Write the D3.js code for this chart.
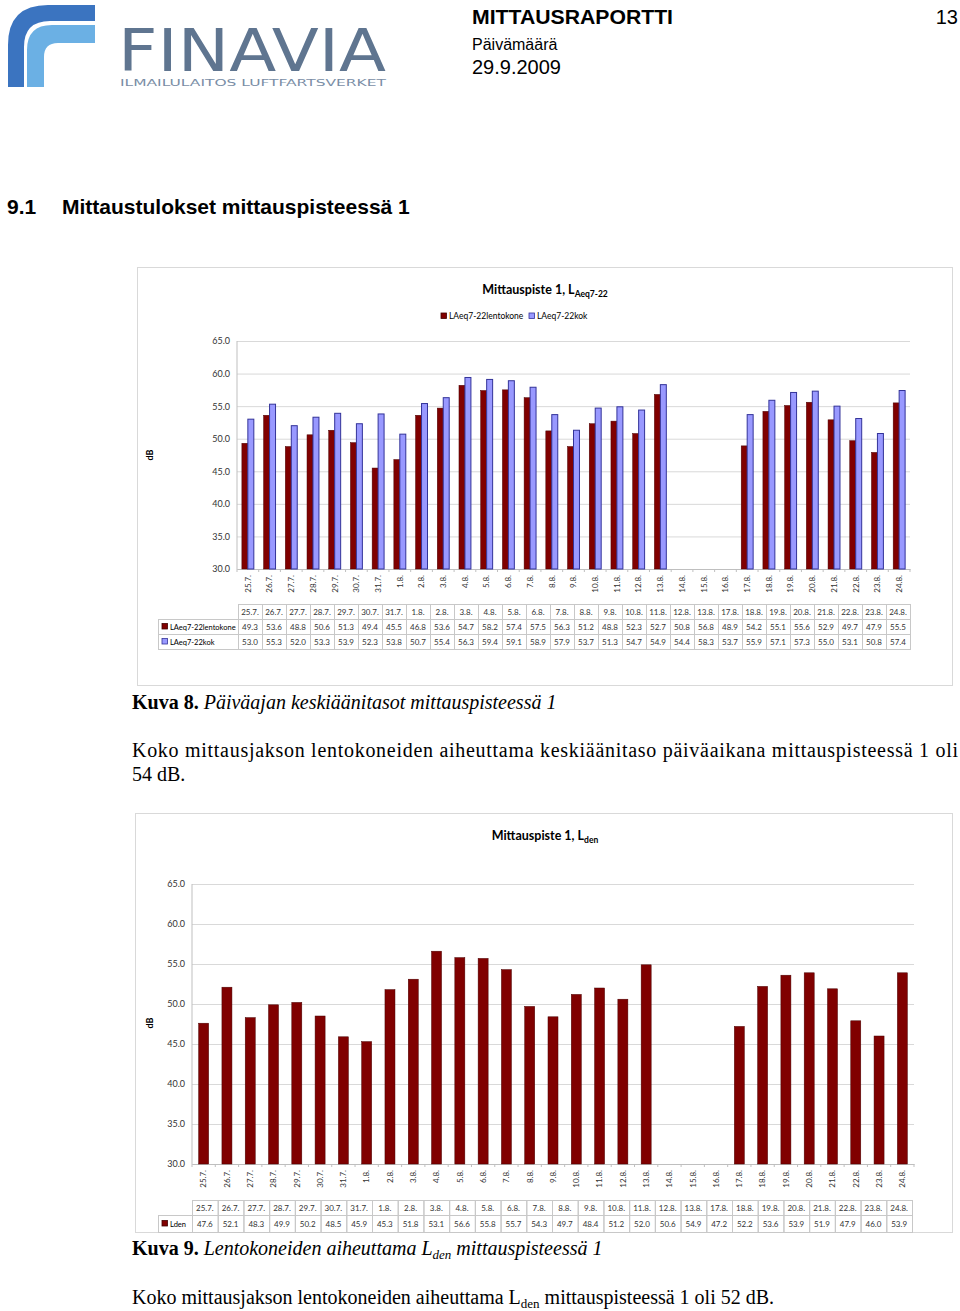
<!DOCTYPE html>
<html>
<head>
<meta charset="utf-8">
<script src="https://cdn.jsdelivr.net/npm/d3@7"></script>
<style>
  body { margin: 0; background: #fff; }
  svg { display: block; }
  .chart text { font-family: Lato, "Open Sans", sans-serif; fill: #333; }
  .serif { font-family: "Liberation Serif", "DejaVu Serif", serif; fill: #000; }
  .sans { font-family: "Liberation Sans", Arial, sans-serif; fill: #000; }
</style>
</head>
<body>
<div id="page"></div>
<script>
var dates = ["25.7.", "26.7.", "27.7.", "28.7.", "29.7.", "30.7.", "31.7.", "1.8.", "2.8.", "3.8.",
  "4.8.", "5.8.", "6.8.", "7.8.", "8.8.", "9.8.", "10.8.", "11.8.", "12.8.", "13.8.",
  "14.8.", "15.8.", "16.8.", "17.8.", "18.8.", "19.8.", "20.8.", "21.8.", "22.8.", "23.8.", "24.8."];

var lentokone = [49.3, 53.6, 48.8, 50.6, 51.3, 49.4, 45.5, 46.8, 53.6, 54.7,
  58.2, 57.4, 57.5, 56.3, 51.2, 48.8, 52.3, 52.7, 50.8, 56.8,
  null, null, null, 48.9, 54.2, 55.1, 55.6, 52.9, 49.7, 47.9, 55.5];

var kokonais = [53.0, 55.3, 52.0, 53.3, 53.9, 52.3, 53.8, 50.7, 55.4, 56.3,
  59.4, 59.1, 58.9, 57.9, 53.7, 51.3, 54.7, 54.9, 54.4, 58.3,
  null, null, null, 53.7, 55.9, 57.1, 57.3, 55.0, 53.1, 50.8, 57.4];

var lden = [47.6, 52.1, 48.3, 49.9, 50.2, 48.5, 45.9, 45.3, 51.8, 53.1,
  56.6, 55.8, 55.7, 54.3, 49.7, 48.4, 51.2, 52.0, 50.6, 54.9,
  null, null, null, 47.2, 52.2, 53.6, 53.9, 51.9, 47.9, 46.0, 53.9];

var yTicks = [30, 35, 40, 45, 50, 55, 60, 65];

var seriesNames = ["LAeq7-22lentokone", "LAeq7-22kok"];
var red = "#800000", blue = "#9999ff", navy = "#333399";

var svg = d3.select("#page").append("svg")
  .attr("width", 960)
  .attr("height", 1311);

svg.append("rect").attr("width", 960).attr("height", 1311).attr("fill", "#fff");

// ---------- page header ----------
var logo = svg.append("g");
logo.append("path")
  .attr("d", "M8,87 L8,45 Q8,5 48,5 L95,5 L95,21 L50,21 Q24,21 24,47 L24,87 Z")
  .attr("fill", "#3b74c0");
logo.append("path")
  .attr("d", "M27,87 L27,50 Q27,25 52,25 L95,25 L95,43 L58,43 Q44,43 44,57 L44,87 Z")
  .attr("fill", "#6bb0e4");
logo.append("text")
  .attr("x", 118).attr("y", 71)
  .attr("textLength", 268).attr("lengthAdjust", "spacingAndGlyphs")
  .style("font-family", "'DejaVu Sans', sans-serif")
  .style("font-size", "58px")
  .style("fill", "#5f7590")
  .text("FINAVIA");
logo.append("text")
  .attr("x", 120).attr("y", 86)
  .attr("textLength", 266).attr("lengthAdjust", "spacingAndGlyphs")
  .style("font-family", "'DejaVu Sans', sans-serif")
  .style("font-size", "9.5px")
  .style("fill", "#7a8ea6")
  .text("ILMAILULAITOS LUFTFARTSVERKET");

svg.append("text").attr("class", "sans").attr("x", 472).attr("y", 24)
  .attr("textLength", 201).attr("lengthAdjust", "spacingAndGlyphs")
  .style("font-size", "21px").style("font-weight", "bold").text("MITTAUSRAPORTTI");
svg.append("text").attr("class", "sans").attr("x", 958).attr("y", 24)
  .attr("text-anchor", "end").style("font-size", "20px").text("13");
svg.append("text").attr("class", "sans").attr("x", 472).attr("y", 50)
  .style("font-size", "16px").text("Päivämäärä");
svg.append("text").attr("class", "sans").attr("x", 472).attr("y", 74)
  .style("font-size", "20px").text("29.9.2009");

svg.append("text").attr("class", "sans").attr("x", 7).attr("y", 214)
  .style("font-size", "21px").style("font-weight", "bold").text("9.1");
svg.append("text").attr("class", "sans").attr("x", 62).attr("y", 214)
  .style("font-size", "21px").style("font-weight", "bold").text("Mittaustulokset mittauspisteessä 1");

// helper for chart title with subscript
function chartTitle(g, x, y, sub) {
  var t = g.append("text").attr("x", x).attr("y", y).attr("text-anchor", "middle")
    .style("font-size", "12.5px").style("font-weight", "bold").style("fill", "#000");
  t.append("tspan").text("Mittauspiste 1, L");
  t.append("tspan").attr("dy", 3).style("font-size", "8.5px").text(sub);
}

// draws gridlines, y axis and x labels
function drawAxes(g, x, y, left, right, bottom) {
  var yAxis = d3.axisLeft(y).tickValues(yTicks).tickFormat(d3.format(".1f"))
    .tickSize(-(right - left)).tickPadding(7);
  var ya = g.append("g").attr("transform", `translate(${left},0)`).call(yAxis);
  ya.select(".domain").remove();
  ya.selectAll("line").attr("stroke", "#d9d9d9");
  ya.selectAll("text").style("font-size", "9px").style("fill", "#333");
  g.append("line").attr("x1", left).attr("x2", left)
    .attr("y1", y(65)).attr("y2", bottom).attr("stroke", "#bfbfbf");

  var xAxis = d3.axisBottom(x).tickSize(0).tickSizeOuter(0);
  var xa = g.append("g").attr("transform", `translate(0,${bottom})`).call(xAxis);
  xa.select(".domain").attr("stroke", "#bfbfbf");
  xa.selectAll("text")
    .attr("transform", "rotate(-90)")
    .attr("text-anchor", "end")
    .attr("x", -6).attr("y", 0).attr("dy", "0.35em")
    .style("font-size", "8px").style("fill", "#333");
  // small category ticks
  g.selectAll(".cattick").data(x.domain().concat(["end"])).enter().append("line")
    .attr("x1", (d, i) => x.range()[0] + i * x.step())
    .attr("x2", (d, i) => x.range()[0] + i * x.step())
    .attr("y1", bottom).attr("y2", bottom + 3)
    .attr("stroke", "#bfbfbf");
}

// ---------- chart 1 ----------
var c1 = svg.append("g").attr("class", "chart");
c1.append("rect").attr("x", 137.5).attr("y", 267.5).attr("width", 815).attr("height", 418)
  .attr("fill", "#fff").attr("stroke", "#d9d9d9");

chartTitle(c1, 545, 294, "Aeq7-22");

// legend
var leg = c1.append("g").attr("transform", "translate(441,319)");
var legX = [0, 88];
seriesNames.forEach(function(name, i) {
  leg.append("rect").attr("x", legX[i]).attr("y", -6).attr("width", 5.5).attr("height", 5.5)
    .attr("fill", i ? blue : red).attr("stroke", i ? navy : "#400000").attr("stroke-width", 0.8);
  leg.append("text").attr("x", legX[i] + 8).attr("y", 0)
    .style("font-size", "8.5px").style("fill", "#000").text(name);
});

var x1 = d3.scaleBand().domain(dates).range([237, 910]).paddingInner(0.45).paddingOuter(0.225);
var y1 = d3.scaleLinear().domain([30, 65]).range([569, 341]);
var sub1 = d3.scaleBand().domain([0, 1]).range([0, x1.bandwidth()]);

drawAxes(c1, x1, y1, 237, 910, 569);

c1.append("text")
  .attr("transform", "translate(153,455) rotate(-90)")
  .attr("text-anchor", "middle")
  .style("font-size", "9px").style("font-weight", "bold").style("fill", "#000")
  .text("dB");

var rows1 = [lentokone, kokonais];
rows1.forEach(function(vals, s) {
  c1.selectAll(".bar" + s).data(dates.map((d, i) => ({ date: d, v: vals[i] })).filter(d => d.v != null))
    .enter().append("rect")
    .attr("x", d => x1(d.date) + sub1(s))
    .attr("y", d => y1(d.v))
    .attr("width", sub1.bandwidth())
    .attr("height", d => y1(30) - y1(d.v))
    .attr("fill", s ? blue : red)
    .attr("stroke", s ? navy : "#4a0000")
    .attr("stroke-width", s ? 1 : 0.5);
});

// data table 1
var tableDates = dates.filter((d, i) => lentokone[i] != null);
var tx1 = d3.scaleBand().domain(tableDates).range([238, 910]);
var rowY1 = [604, 619, 634, 649];

function drawTable(g, tx, rowY, labelX, rowLabels, rowValues, markColors) {
  // header row
  tableDates.forEach(function(d) {
    g.append("rect").attr("x", tx(d) + 0.5).attr("y", rowY[0] + 0.5)
      .attr("width", tx.bandwidth()).attr("height", rowY[1] - rowY[0])
      .attr("fill", "none").attr("stroke", "#c8c8c8");
    g.append("text").attr("x", tx(d) + tx.bandwidth() / 2).attr("y", (rowY[0] + rowY[1]) / 2 + 3)
      .attr("text-anchor", "middle").style("font-size", "8px").text(d);
  });
  rowLabels.forEach(function(label, r) {
    var y0 = rowY[r + 1], y2 = rowY[r + 2];
    g.append("rect").attr("x", labelX + 0.5).attr("y", y0 + 0.5)
      .attr("width", tx.range()[0] - labelX).attr("height", y2 - y0)
      .attr("fill", "none").attr("stroke", "#c8c8c8");
    g.append("rect").attr("x", labelX + 4).attr("y", (y0 + y2) / 2 - 3).attr("width", 5.5).attr("height", 5.5)
      .attr("fill", markColors[r][0]).attr("stroke", markColors[r][1]).attr("stroke-width", 0.8);
    g.append("text").attr("x", labelX + 12).attr("y", (y0 + y2) / 2 + 3)
      .style("font-size", "7.5px").style("fill", "#000").text(label);
    var vals = rowValues[r].filter(v => v != null);
    tableDates.forEach(function(d, i) {
      g.append("rect").attr("x", tx(d) + 0.5).attr("y", y0 + 0.5)
        .attr("width", tx.bandwidth()).attr("height", y2 - y0)
        .attr("fill", "none").attr("stroke", "#c8c8c8");
      g.append("text").attr("x", tx(d) + tx.bandwidth() / 2).attr("y", (y0 + y2) / 2 + 3)
        .attr("text-anchor", "middle").style("font-size", "8px").text(d3.format(".1f")(vals[i]));
    });
  });
}

drawTable(c1, tx1, rowY1, 158, seriesNames, rows1, [[red, "#400000"], [blue, navy]]);

// caption and text 1
var cap1 = svg.append("text").attr("class", "serif").attr("x", 132).attr("y", 709).style("font-size", "20px");
cap1.append("tspan").style("font-weight", "bold").text("Kuva 8. ");
cap1.append("tspan").style("font-style", "italic").text("Päiväajan keskiäänitasot mittauspisteessä 1");

svg.append("text").attr("class", "serif").attr("x", 132).attr("y", 757)
  .attr("textLength", 826).attr("lengthAdjust", "spacing")
  .style("font-size", "20px")
  .text("Koko mittausjakson lentokoneiden aiheuttama keskiäänitaso päiväaikana mittauspisteessä 1 oli");
svg.append("text").attr("class", "serif").attr("x", 132).attr("y", 781)
  .style("font-size", "20px").text("54 dB.");

// ---------- chart 2 ----------
var c2 = svg.append("g").attr("class", "chart");
c2.append("rect").attr("x", 135.5).attr("y", 813.5).attr("width", 817).attr("height", 419)
  .attr("fill", "#fff").attr("stroke", "#d9d9d9");

chartTitle(c2, 545, 840, "den");

var x2 = d3.scaleBand().domain(dates).range([192, 914]).paddingInner(0.57).paddingOuter(0.285);
var y2 = d3.scaleLinear().domain([30, 65]).range([1164, 884]);

drawAxes(c2, x2, y2, 192, 914, 1164);

c2.append("text")
  .attr("transform", "translate(153,1023) rotate(-90)")
  .attr("text-anchor", "middle")
  .style("font-size", "9px").style("font-weight", "bold").style("fill", "#000")
  .text("dB");

c2.selectAll(".bar2").data(dates.map((d, i) => ({ date: d, v: lden[i] })).filter(d => d.v != null))
  .enter().append("rect")
  .attr("x", d => x2(d.date))
  .attr("y", d => y2(d.v))
  .attr("width", x2.bandwidth())
  .attr("height", d => y2(30) - y2(d.v))
  .attr("fill", red)
  .attr("stroke", "#4a0000")
  .attr("stroke-width", 0.5);

var tx2 = d3.scaleBand().domain(tableDates).range([192, 912]);
drawTable(c2, tx2, [1200, 1215, 1232], 158, ["Lden"], [lden], [[red, "#400000"]]);

// caption and text 2
var cap2 = svg.append("text").attr("class", "serif").attr("x", 132).attr("y", 1255).style("font-size", "20px");
cap2.append("tspan").style("font-weight", "bold").text("Kuva 9. ");
cap2.append("tspan").style("font-style", "italic").text("Lentokoneiden aiheuttama L");
cap2.append("tspan").style("font-style", "italic").attr("dy", 4).style("font-size", "13px").text("den");
cap2.append("tspan").style("font-style", "italic").attr("dy", -4).text(" mittauspisteessä 1");

var txt2 = svg.append("text").attr("class", "serif").attr("x", 132).attr("y", 1304).style("font-size", "20px");
txt2.append("tspan").text("Koko mittausjakson lentokoneiden aiheuttama L");
txt2.append("tspan").attr("dy", 4).style("font-size", "13px").text("den");
txt2.append("tspan").attr("dy", -4).text(" mittauspisteessä 1 oli 52 dB.");
</script>
</body>
</html>
